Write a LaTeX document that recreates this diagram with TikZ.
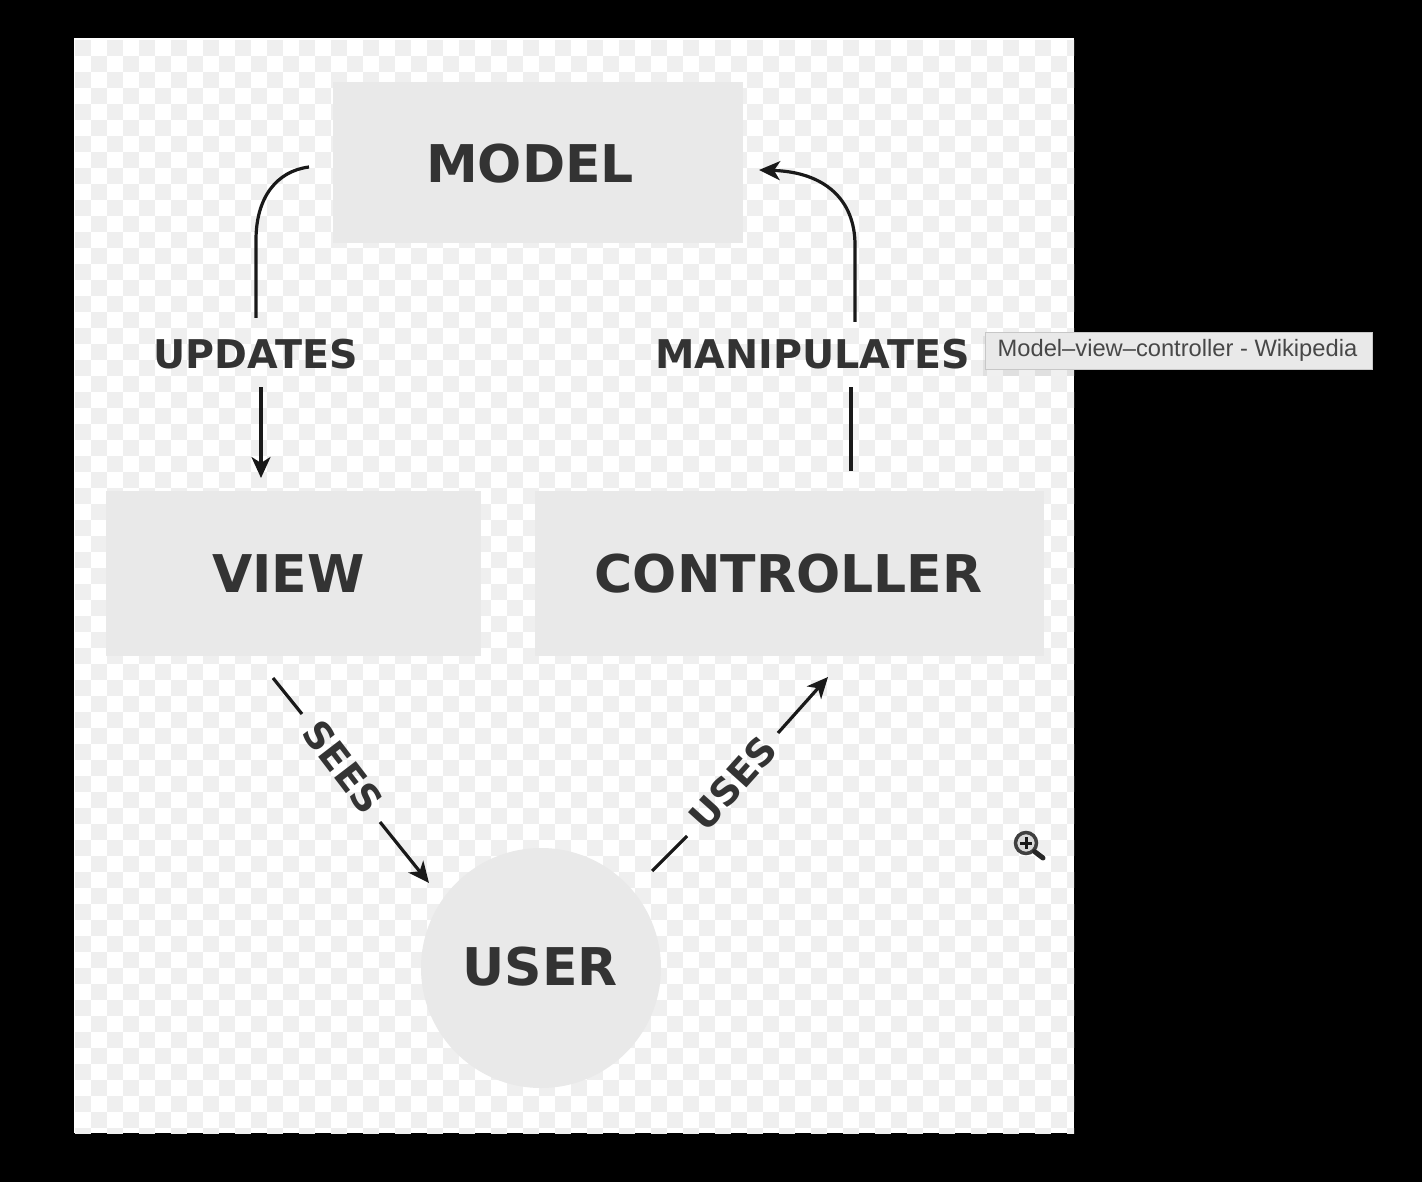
\documentclass[tikz,border=0pt]{standalone}
\usepackage{fontspec}
\setmainfont{DejaVu Sans}
\newfontfamily\tipfont{Liberation Sans}
\usetikzlibrary{arrows.meta}
\definecolor{boxgrey}{HTML}{E9E9E9}
\definecolor{checkgrey}{HTML}{EFEFEF}
\definecolor{inkgrey}{HTML}{333333}
\tikzset{
  x=1pt,y=-1pt,
  boxshape/.style={fill=boxgrey,draw=none,inner sep=0pt,anchor=north west},
  bigtext/.style={font=\fontsize{52}{52}\selectfont\bfseries,text=inkgrey,inner sep=0pt},
  smalltext/.style={font=\fontsize{39.6}{40}\selectfont\bfseries,text=inkgrey,inner sep=0pt},
  slanttext/.style={font=\fontsize{37.5}{38}\selectfont\bfseries,text=inkgrey,inner sep=0pt},
  link/.style={line width=3.2pt,draw=black!90},
  linkhead/.style={link,-{Stealth[length=21pt,width=19pt,inset=6pt]}},
}
\begin{document}
\begin{tikzpicture}
\useasboundingbox (0,0) rectangle (1422,1182);
\fill[black] (0,0) rectangle (1422,1182);
\fill[white] (74,38) rectangle (1074,1133);
\begin{scope}
\clip (74,38) rectangle (1074,1133);
\foreach \r in {0,...,68}{
  \pgfmathtruncatemacro{\off}{mod(\r,2)}
  \foreach \c in {0,...,31}{
    \pgfmathsetmacro{\xa}{75+32*\c+16*\off}
    \pgfmathsetmacro{\ya}{40+16*\r}
    \fill[checkgrey] (\xa,\ya) rectangle ++(16,16);
  }
}
\end{scope}
% boxes
\node[boxshape,minimum width=410pt,minimum height=161pt] (model) at (333,82) {};
\node[boxshape,minimum width=375pt,minimum height=165pt] (view) at (106,491) {};
\node[boxshape,minimum width=509pt,minimum height=165pt] (controller) at (535,491) {};
\node[circle,fill=boxgrey,draw=none,inner sep=0pt,minimum size=240pt] (user) at (541,968) {};
% box labels
\node[bigtext] (modeltext) at (530,164) {MODEL};
\node[bigtext] (viewtext) at (288.5,574) {VIEW};
\node[bigtext] (controllertext) at (788.5,574) {CONTROLLER};
\node[bigtext] (usertext) at (540,967) {USER};
% connector labels
\node[smalltext] (updates) at (255.5,354.5) {UPDATES};
\node[smalltext] (manipulates) at (812.5,354.5) {MANIPULATES};
\node[slanttext,rotate=-52.5] (sees) at (343,767) {SEES};
\node[slanttext,rotate=48] (uses) at (733,783) {USES};
% free ends
\coordinate (a1) at (309,167);
\coordinate (a2) at (256,318);
\coordinate (a3) at (261,387);
\coordinate (a4) at (261,478);
\coordinate (b1) at (851,471);
\coordinate (b2) at (851,387);
\coordinate (b3) at (855,322);
\coordinate (b4) at (759,170);
\coordinate (c1) at (273,678);
\coordinate (c2) at (302,714);
\coordinate (c3) at (380,822);
\coordinate (c4) at (429,883);
\coordinate (d1) at (652,871);
\coordinate (d2) at (687,836);
\coordinate (d3) at (778,733);
\coordinate (d4) at (828,677);
% connectors
\draw[link,line join=round] (a1) .. controls (277,171) and (256,197) .. (256,240) -- (a2);
\draw[linkhead] (a3) -- (a4);
\draw[link] (b1) -- (b2);
\draw[linkhead,line join=round] (b3) -- (855,245) .. controls (855,200) and (825,172) .. (b4);
\draw[link] (c1) -- (c2);
\draw[linkhead] (c3) -- (c4);
\draw[link] (d1) -- (d2);
\draw[linkhead] (d3) -- (d4);
% tooltip
\fill[black,opacity=.06] (983,336) rectangle (1074,376);
\node[fill=boxgrey,draw=black!22,line width=1pt,inner sep=0pt,anchor=north west,minimum width=387pt,minimum height=37pt] (tip) at (985,332) {};
\node[font=\tipfont\fontsize{23.7}{24}\selectfont,text=black!72,inner sep=0pt] (tiptext) at (1177.5,350.5) {Model–view–controller - Wikipedia};
% magnifier
\node[circle,draw=black!75,fill=white!85!black,line width=3.5pt,minimum size=21pt,inner sep=0pt] (lens) at (1026,843) {};
\coordinate (handle) at (1043,858);
\draw[black!85,line width=5pt,line cap=round] (lens.south east) -- (handle);
\draw[black!90,line width=3pt] (1020,843) -- (1032,843) (1026,837) -- (1026,849);
\end{tikzpicture}
\end{document}
